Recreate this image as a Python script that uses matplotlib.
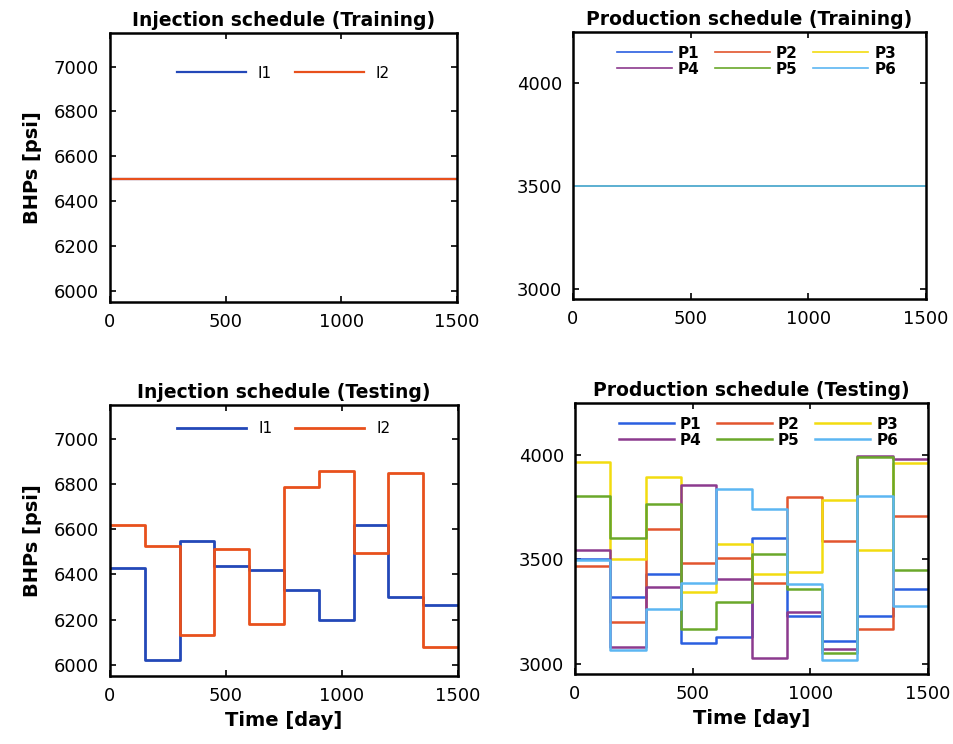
import matplotlib
matplotlib.use("Agg")
import matplotlib.pyplot as plt

# Control-step boundaries (days)
t_edges = [0, 150, 300, 450, 600, 750, 900, 1050, 1200, 1350, 1500]

# Training: constant BHPs
train_inj = {"I1": 6500, "I2": 6500}
train_prod = {"P1": 3500, "P2": 3500, "P3": 3500, "P4": 3500, "P5": 3500, "P6": 3500}

# Testing: piecewise-constant BHPs per step
i1 = [6430, 6020, 6550, 6435, 6420, 6330, 6200, 6620, 6300, 6265]
i2 = [6620, 6525, 6130, 6512, 6182, 6788, 6858, 6496, 6851, 6078]

p1 = [3502, 3317, 3430, 3097, 3126, 3604, 3228, 3110, 3228, 3356]
p2 = [3469, 3201, 3644, 3484, 3506, 3388, 3798, 3589, 3167, 3709]
p3 = [3968, 3500, 3895, 3343, 3573, 3432, 3440, 3783, 3545, 3964]
p4 = [3544, 3081, 3366, 3858, 3408, 3029, 3249, 3071, 3998, 3979]
p5 = [3803, 3604, 3767, 3168, 3295, 3526, 3359, 3050, 3993, 3450]
p6 = [3496, 3065, 3260, 3387, 3837, 3743, 3383, 3016, 3806, 3277]

inj_names = ["I1", "I2"]
prod_names = ["P1", "P2", "P3", "P4", "P5", "P6"]

INJ_COLORS = ["#2348b8", "#e8501c"]
PROD_COLORS = ["#2a5fe0", "#e2552e", "#f2dc10", "#8c3a8e", "#6aa82a", "#5cb6f2"]

W, H = 954, 744
fig = plt.figure(figsize=(W / 100, H / 100), dpi=100)
fig.patch.set_facecolor("white")


def px_axes(left, top, right, bottom):
    return fig.add_axes([left / W, 1 - bottom / H, (right - left) / W, (bottom - top) / H])


def style(ax, ylim, yticks, title):
    ax.set_xlim(0, 1500)
    ax.set_ylim(*ylim)
    ax.set_xticks([0, 500, 1000, 1500])
    ax.set_yticks(yticks)
    ax.tick_params(direction="in", top=True, right=True, length=4, width=1.2,
                   labelsize=13, pad=8)
    for s in ax.spines.values():
        s.set_linewidth(1.8)
    ax.set_title(title, fontsize=13.5, fontweight="bold", pad=5)


def steps(vals):
    return vals + [vals[-1]]


def prod_legend(ax):
    # matplotlib fills legend columns first; reorder so rows read P1 P2 P3 / P4 P5 P6
    h, l = ax.get_legend_handles_labels()
    order = [0, 3, 1, 4, 2, 5]
    ax.legend([h[i] for i in order], [l[i] for i in order], loc="upper center", ncol=3,
              frameon=False, prop={"size": 11, "weight": "bold"}, handlelength=3.6,
              handletextpad=0.4, columnspacing=1.0, labelspacing=0.05,
              bbox_to_anchor=(0.52, 1.0))


# ----- top-left: injection training -----
ax = px_axes(110, 33, 457, 302)
for name, c in zip(inj_names, INJ_COLORS):
    ax.plot([t_edges[0], t_edges[-1]], [train_inj[name]] * 2, color=c, lw=1.6, label=name)
style(ax, (5950, 7150), [6000, 6200, 6400, 6600, 6800, 7000], "Injection schedule (Training)")
ax.set_ylabel("BHPs [psi]", fontsize=14, fontweight="bold", labelpad=8)
ax.legend(loc="upper center", ncol=2, frameon=False, fontsize=11, handlelength=4.5,
          columnspacing=1.5, bbox_to_anchor=(0.5, 0.93))

# ----- top-right: production training -----
ax = px_axes(573, 32, 926, 299)
for name, c in zip(prod_names, PROD_COLORS):
    ax.plot([t_edges[0], t_edges[-1]], [train_prod[name]] * 2, color=c, lw=1.2, label=name)
style(ax, (2950, 4250), [3000, 3500, 4000], "Production schedule (Training)")
prod_legend(ax)

# ----- bottom-left: injection testing -----
ax = px_axes(110, 405, 458, 676)
for vals, name, c in zip([i1, i2], inj_names, INJ_COLORS):
    ax.plot(t_edges, steps(vals), drawstyle="steps-post", color=c, lw=2.0, label=name)
style(ax, (5950, 7150), [6000, 6200, 6400, 6600, 6800, 7000], "Injection schedule (Testing)")
ax.set_ylabel("BHPs [psi]", fontsize=14, fontweight="bold", labelpad=8)
ax.set_xlabel("Time [day]", fontsize=14, fontweight="bold", labelpad=4)
ax.legend(loc="upper center", ncol=2, frameon=False, fontsize=11, handlelength=4.5,
          columnspacing=1.5, bbox_to_anchor=(0.5, 0.99))

# ----- bottom-right: production testing -----
ax = px_axes(575, 403, 928, 674)
for vals, name, c in zip([p1, p2, p3, p4, p5, p6], prod_names, PROD_COLORS):
    ax.plot(t_edges, steps(vals), drawstyle="steps-post", color=c, lw=1.8, label=name)
style(ax, (2950, 4250), [3000, 3500, 4000], "Production schedule (Testing)")
ax.set_xlabel("Time [day]", fontsize=14, fontweight="bold", labelpad=4)
prod_legend(ax)

fig.savefig("out.png", dpi=100, facecolor="white")
